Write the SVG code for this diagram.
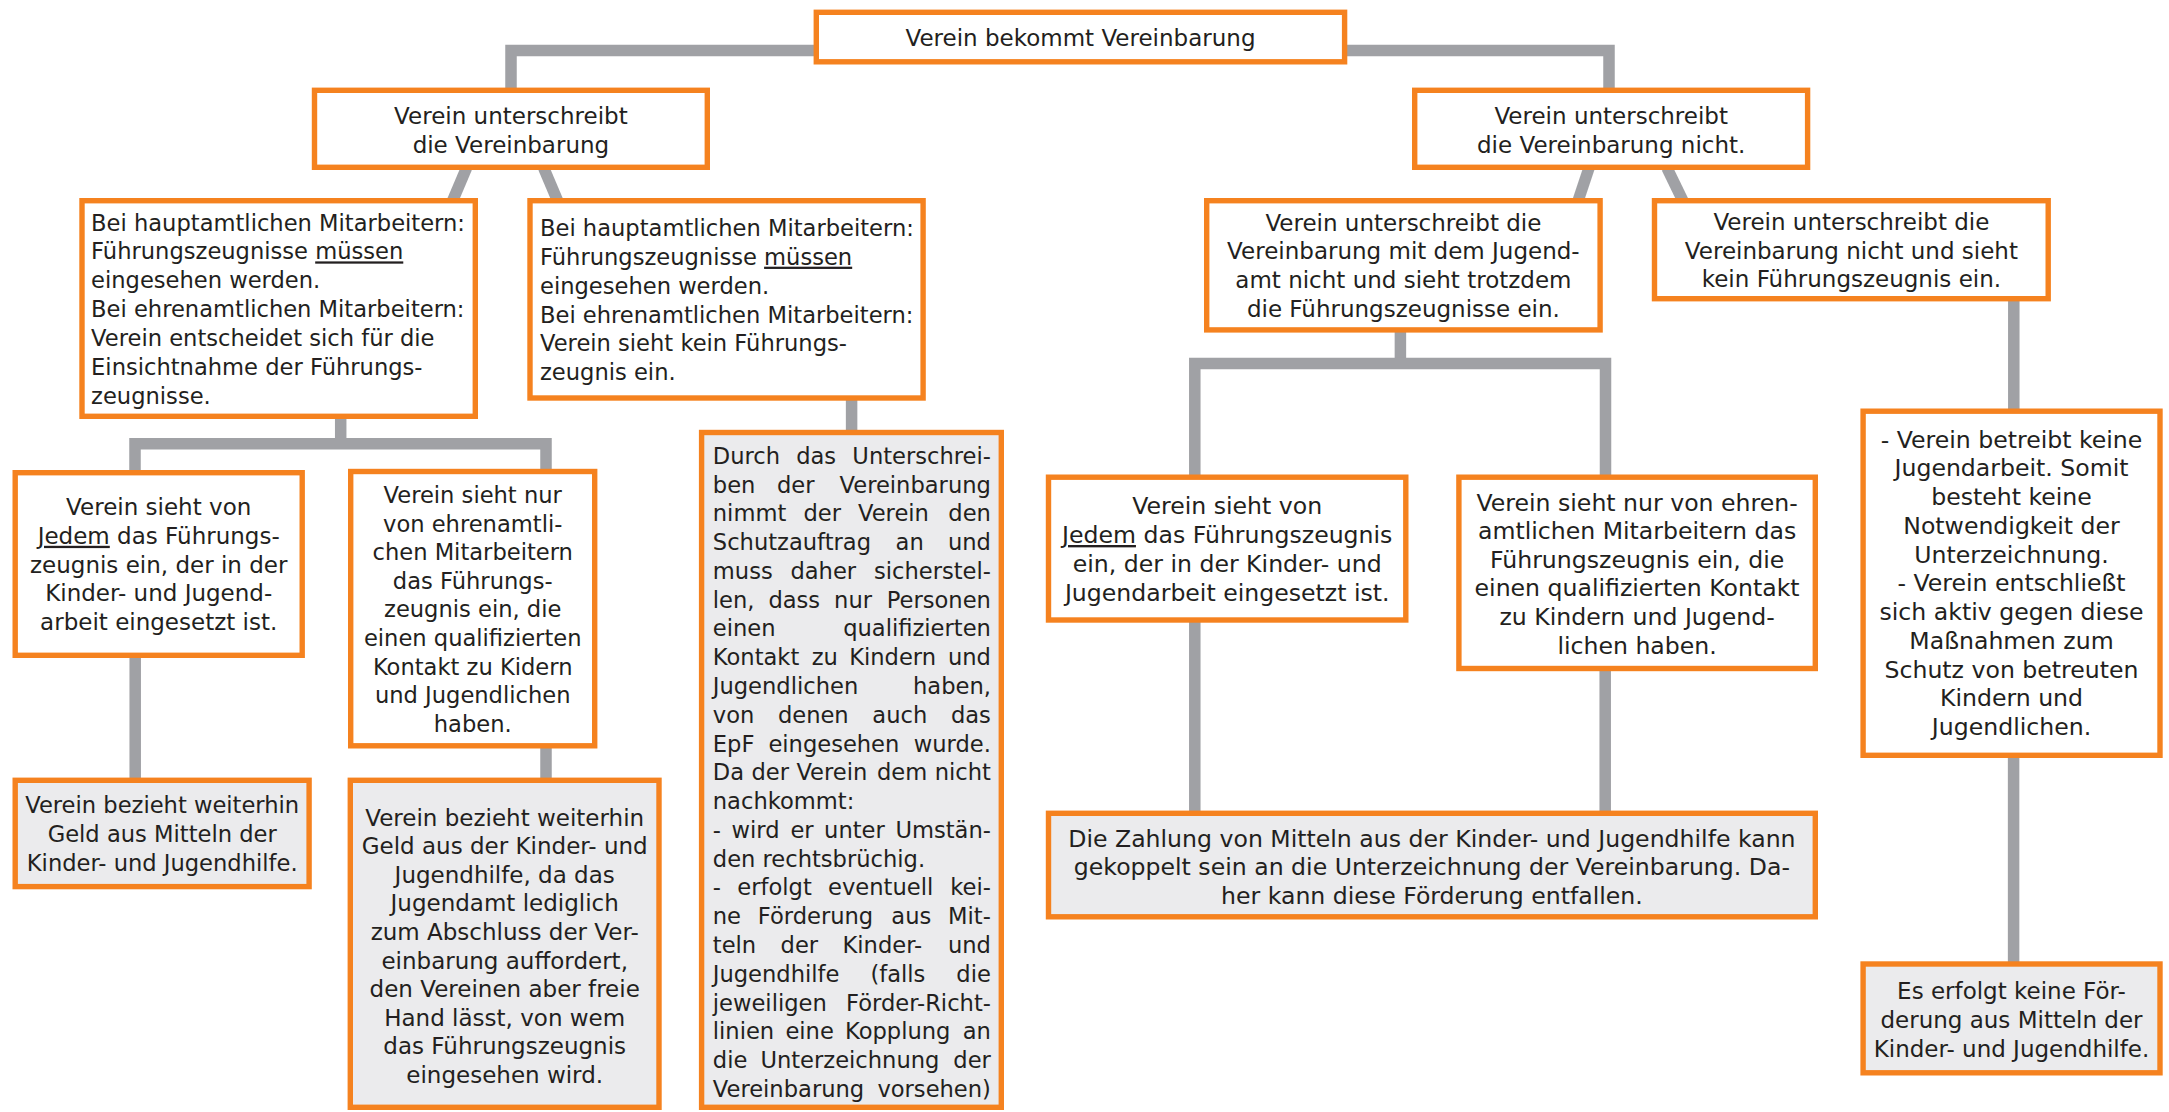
<svg xmlns="http://www.w3.org/2000/svg" width="2169" height="1112" viewBox="0 0 2169 1112">
<style>
.box{fill:#FFFFFF;stroke:#F5821F;stroke-width:5.4}
.gbox{fill:#EBEBED;stroke:#F5821F;stroke-width:5.4}
.conn{fill:none;stroke:#A0A1A5;stroke-width:11.5}
text{font-family:"DejaVu Sans",Verdana,sans-serif;font-size:23px;fill:#231F20}
.sm text{font-size:22.6px}
.lg text{font-size:23.6px}
.c{text-anchor:middle}
.e{text-anchor:end}
.u{text-decoration:underline}
</style>
<rect width="2169" height="1112" fill="#FFFFFF"/>
<g id="connectors">
<path class="conn" d="M816 50.5 H511 V92"/>
<path class="conn" d="M1345 50.5 H1609 V92"/>
<path class="conn" d="M466.5 168 L452.5 201"/>
<path class="conn" d="M543.7 168 L557.7 201"/>
<path class="conn" d="M1589 168 L1578 201"/>
<path class="conn" d="M1667 168 L1683 201"/>
<path class="conn" d="M340.7 417 V443.8"/>
<path class="conn" d="M135 473 V443.8 H546 V472"/>
<path class="conn" d="M135.2 656 V780"/>
<path class="conn" d="M546 746 V780"/>
<path class="conn" d="M851.6 398 V432"/>
<path class="conn" d="M1400.4 330 V363.4"/>
<path class="conn" d="M1194.8 477 V363.4 H1605.5 V477"/>
<path class="conn" d="M1194.8 620 V813"/>
<path class="conn" d="M1605.2 669 V813"/>
<path class="conn" d="M2013.8 299 V411"/>
<path class="conn" d="M2013.6 756 V964"/>
</g>
<g id="n-top">
<rect class="box" x="816.3" y="12.3" width="528.3" height="49.5"/>
<text class="c" x="1080.5" y="46">Verein bekommt Vereinbarung</text>
</g>
<g id="n-l1">
<rect class="box" x="314.5" y="90.3" width="392.8" height="77"/>
<text class="c" x="510.9" y="124">Verein unterschreibt</text>
<text class="c" x="510.9" y="152.5">die Vereinbarung</text>
</g>
<g id="n-r1">
<rect class="box" x="1414.7" y="90.3" width="392.9" height="77"/>
<text class="c" x="1611.2" y="124">Verein unterschreibt</text>
<text class="c" x="1611.2" y="152.5">die Vereinbarung nicht.</text>
</g>
<g id="n-l2a" class="sm">
<rect class="box" x="82" y="200.7" width="393.3" height="215.6"/>
<text x="91.1" y="230.5">Bei hauptamtlichen Mitarbeitern:</text>
<text x="91.1" y="259.4">Führungszeugnisse <tspan class="u">müssen</tspan></text>
<text x="91.1" y="288.3">eingesehen werden.</text>
<text x="91.1" y="317.2">Bei ehrenamtlichen Mitarbeitern:</text>
<text x="91.1" y="346.1">Verein entscheidet sich für die</text>
<text x="91.1" y="375">Einsichtnahme der Führungs-</text>
<text x="91.1" y="403.9">zeugnisse.</text>
</g>
<g id="n-l2b" class="sm">
<rect class="box" x="530" y="200.7" width="393.1" height="197.3"/>
<text x="540" y="235.8">Bei hauptamtlichen Mitarbeitern:</text>
<text x="540" y="264.7">Führungszeugnisse <tspan class="u">müssen</tspan></text>
<text x="540" y="293.6">eingesehen werden.</text>
<text x="540" y="322.5">Bei ehrenamtlichen Mitarbeitern:</text>
<text x="540" y="351.4">Verein sieht kein Führungs-</text>
<text x="540" y="380.3">zeugnis ein.</text>
</g>
<g id="n-r2a">
<rect class="box" x="1206.7" y="200.7" width="393.4" height="129.2"/>
<text class="c" x="1403.4" y="230.5">Verein unterschreibt die</text>
<text class="c" x="1403.4" y="259.3">Vereinbarung mit dem Jugend-</text>
<text class="c" x="1403.4" y="288">amt nicht und sieht trotzdem</text>
<text class="c" x="1403.4" y="316.7">die Führungszeugnisse ein.</text>
</g>
<g id="n-r2b">
<rect class="box" x="1654.5" y="200.7" width="393.7" height="98"/>
<text class="c" x="1851.4" y="229.8">Verein unterschreibt die</text>
<text class="c" x="1851.4" y="258.6">Vereinbarung nicht und sieht</text>
<text class="c" x="1851.4" y="287.3">kein Führungszeugnis ein.</text>
</g>
<g id="n-l3a">
<rect class="box" x="15.2" y="472.7" width="287" height="182.6"/>
<text class="c" x="158.7" y="515">Verein sieht von</text>
<text class="c" x="158.7" y="543.8"><tspan class="u">Jedem</tspan> das Führungs-</text>
<text class="c" x="158.7" y="572.6">zeugnis ein, der in der</text>
<text class="c" x="158.7" y="601.4">Kinder- und Jugend-</text>
<text class="c" x="158.7" y="630.2">arbeit eingesetzt ist.</text>
</g>
<g id="n-l3b" class="sm">
<rect class="box" x="350.7" y="471.5" width="244" height="274.3"/>
<text class="c" x="472.7" y="503">Verein sieht nur</text>
<text class="c" x="472.7" y="531.6">von ehrenamtli-</text>
<text class="c" x="472.7" y="560.2">chen Mitarbeitern</text>
<text class="c" x="472.7" y="588.8">das Führungs-</text>
<text class="c" x="472.7" y="617.4">zeugnis ein, die</text>
<text class="c" x="472.7" y="646">einen qualifizierten</text>
<text class="c" x="472.7" y="674.6">Kontakt zu Kidern</text>
<text class="c" x="472.7" y="703.2">und Jugendlichen</text>
<text class="c" x="472.7" y="731.8">haben.</text>
</g>
<g id="n-m" class="sm">
<rect class="gbox" x="701.6" y="432.5" width="299.7" height="674.8"/>
<text x="712.8" y="463.8">Durch</text><text x="796.2" y="463.8">das</text><text class="e" x="990.9" y="463.8">Unterschrei-</text>
<text x="712.8" y="492.6">ben</text><text x="777" y="492.6">der</text><text class="e" x="990.9" y="492.6">Vereinbarung</text>
<text x="712.8" y="521.3">nimmt</text><text x="803.4" y="521.3">der</text><text x="858" y="521.3">Verein</text><text class="e" x="990.9" y="521.3">den</text>
<text x="712.8" y="550.1">Schutzauftrag</text><text x="895.6" y="550.1">an</text><text class="e" x="990.9" y="550.1">und</text>
<text x="712.8" y="578.9">muss</text><text x="790.4" y="578.9">daher</text><text class="e" x="990.9" y="578.9">sicherstel-</text>
<text x="712.8" y="607.7">len,</text><text x="768.4" y="607.7">dass</text><text x="834.1" y="607.7">nur</text><text class="e" x="990.9" y="607.7">Personen</text>
<text x="712.8" y="636.4">einen</text><text class="e" x="990.9" y="636.4">qualifizierten</text>
<text x="712.8" y="665.2">Kontakt</text><text x="811.7" y="665.2">zu</text><text x="849.2" y="665.2">Kindern</text><text class="e" x="990.9" y="665.2">und</text>
<text x="712.8" y="694">Jugendlichen</text><text class="e" x="990.9" y="694">haben,</text>
<text x="712.8" y="722.7">von</text><text x="777.9" y="722.7">denen</text><text x="872.3" y="722.7">auch</text><text class="e" x="990.9" y="722.7">das</text>
<text x="712.8" y="751.5">EpF</text><text x="768.4" y="751.5">eingesehen</text><text class="e" x="990.9" y="751.5">wurde.</text>
<text x="712.8" y="780.3">Da</text><text x="751.5" y="780.3">der</text><text x="796.4" y="780.3">Verein</text><text x="877" y="780.3">dem</text><text class="e" x="990.9" y="780.3">nicht</text>
<text x="712.8" y="809.1">nachkommt:</text>
<text x="712.8" y="837.8">-</text><text x="731.5" y="837.8">wird</text><text x="790.4" y="837.8">er</text><text x="824.1" y="837.8">unter</text><text class="e" x="990.9" y="837.8">Umstän-</text>
<text x="712.8" y="866.6">den rechtsbrüchig.</text>
<text x="712.8" y="895.4">-</text><text x="737.3" y="895.4">erfolgt</text><text x="828.1" y="895.4">eventuell</text><text class="e" x="990.9" y="895.4">kei-</text>
<text x="712.8" y="924.2">ne</text><text x="757.8" y="924.2">Förderung</text><text x="891.3" y="924.2">aus</text><text class="e" x="990.9" y="924.2">Mit-</text>
<text x="712.8" y="952.9">teln</text><text x="780.6" y="952.9">der</text><text x="842.5" y="952.9">Kinder-</text><text class="e" x="990.9" y="952.9">und</text>
<text x="712.8" y="981.7">Jugendhilfe</text><text x="870.4" y="981.7">(falls</text><text class="e" x="990.9" y="981.7">die</text>
<text x="712.8" y="1010.5">jeweiligen</text><text class="e" x="990.9" y="1010.5">Förder-Richt-</text>
<text x="712.8" y="1039.2">linien</text><text x="785.4" y="1039.2">eine</text><text x="845" y="1039.2">Kopplung</text><text class="e" x="990.9" y="1039.2">an</text>
<text x="712.8" y="1068">die</text><text x="760.4" y="1068">Unterzeichnung</text><text class="e" x="990.9" y="1068">der</text>
<text x="712.8" y="1096.8">Vereinbarung</text><text class="e" x="990.9" y="1096.8">vorsehen)</text>
</g>
<g id="n-r3a" class="lg">
<rect class="box" x="1048.5" y="477.2" width="357.3" height="142.8"/>
<text class="c" x="1227.2" y="514.2">Verein sieht von</text>
<text class="c" x="1227.2" y="543"><tspan class="u">Jedem</tspan> das Führungszeugnis</text>
<text class="c" x="1227.2" y="571.8">ein, der in der Kinder- und</text>
<text class="c" x="1227.2" y="600.6">Jugendarbeit eingesetzt ist.</text>
</g>
<g id="n-r3b" class="lg">
<rect class="box" x="1458.9" y="477.2" width="356.4" height="191.3"/>
<text class="c" x="1637.1" y="510.6">Verein sieht nur von ehren-</text>
<text class="c" x="1637.1" y="539.2">amtlichen Mitarbeitern das</text>
<text class="c" x="1637.1" y="567.8">Führungszeugnis ein, die</text>
<text class="c" x="1637.1" y="596.4">einen qualifizierten Kontakt</text>
<text class="c" x="1637.1" y="625">zu Kindern und Jugend-</text>
<text class="c" x="1637.1" y="653.6">lichen haben.</text>
</g>
<g id="n-r4" class="lg">
<rect class="box" x="1863.1" y="411.2" width="296.9" height="344.1"/>
<text class="c" x="2011.5" y="447.5">- Verein betreibt keine</text>
<text class="c" x="2011.5" y="476.3">Jugendarbeit. Somit</text>
<text class="c" x="2011.5" y="505">besteht keine</text>
<text class="c" x="2011.5" y="533.8">Notwendigkeit der</text>
<text class="c" x="2011.5" y="562.5">Unterzeichnung.</text>
<text class="c" x="2011.5" y="591.3">- Verein entschließt</text>
<text class="c" x="2011.5" y="620">sich aktiv gegen diese</text>
<text class="c" x="2011.5" y="648.8">Maßnahmen zum</text>
<text class="c" x="2011.5" y="677.5">Schutz von betreuten</text>
<text class="c" x="2011.5" y="706.3">Kindern und</text>
<text class="c" x="2011.5" y="735">Jugendlichen.</text>
</g>
<g id="n-l4a" class="sm">
<rect class="gbox" x="15.2" y="780.3" width="293.9" height="106.3"/>
<text class="c" x="162.2" y="813">Verein bezieht weiterhin</text>
<text class="c" x="162.2" y="842">Geld aus Mitteln der</text>
<text class="c" x="162.2" y="871">Kinder- und Jugendhilfe.</text>
</g>
<g id="n-l4b">
<rect class="gbox" x="350.3" y="780.3" width="308.7" height="327"/>
<text class="c" x="504.7" y="825.5">Verein bezieht weiterhin</text>
<text class="c" x="504.7" y="854.1">Geld aus der Kinder- und</text>
<text class="c" x="504.7" y="882.7">Jugendhilfe, da das</text>
<text class="c" x="504.7" y="911.3">Jugendamt lediglich</text>
<text class="c" x="504.7" y="939.9">zum Abschluss der Ver-</text>
<text class="c" x="504.7" y="968.5">einbarung auffordert,</text>
<text class="c" x="504.7" y="997.1">den Vereinen aber freie</text>
<text class="c" x="504.7" y="1025.7">Hand lässt, von wem</text>
<text class="c" x="504.7" y="1054.3">das Führungszeugnis</text>
<text class="c" x="504.7" y="1082.9">eingesehen wird.</text>
</g>
<g id="n-zahlung" class="lg">
<rect class="gbox" x="1048.5" y="813.3" width="766.8" height="103.5"/>
<text class="c" x="1431.9" y="846.8">Die Zahlung von Mitteln aus der Kinder- und Jugendhilfe kann</text>
<text class="c" x="1431.9" y="875.4">gekoppelt sein an die Unterzeichnung der Vereinbarung. Da-</text>
<text class="c" x="1431.9" y="904">her kann diese Förderung entfallen.</text>
</g>
<g id="n-r5">
<rect class="gbox" x="1863.1" y="964" width="296.9" height="108.8"/>
<text class="c" x="2011.5" y="999.3">Es erfolgt keine För-</text>
<text class="c" x="2011.5" y="1027.9">derung aus Mitteln der</text>
<text class="c" x="2011.5" y="1056.5">Kinder- und Jugendhilfe.</text>
</g>
</svg>
